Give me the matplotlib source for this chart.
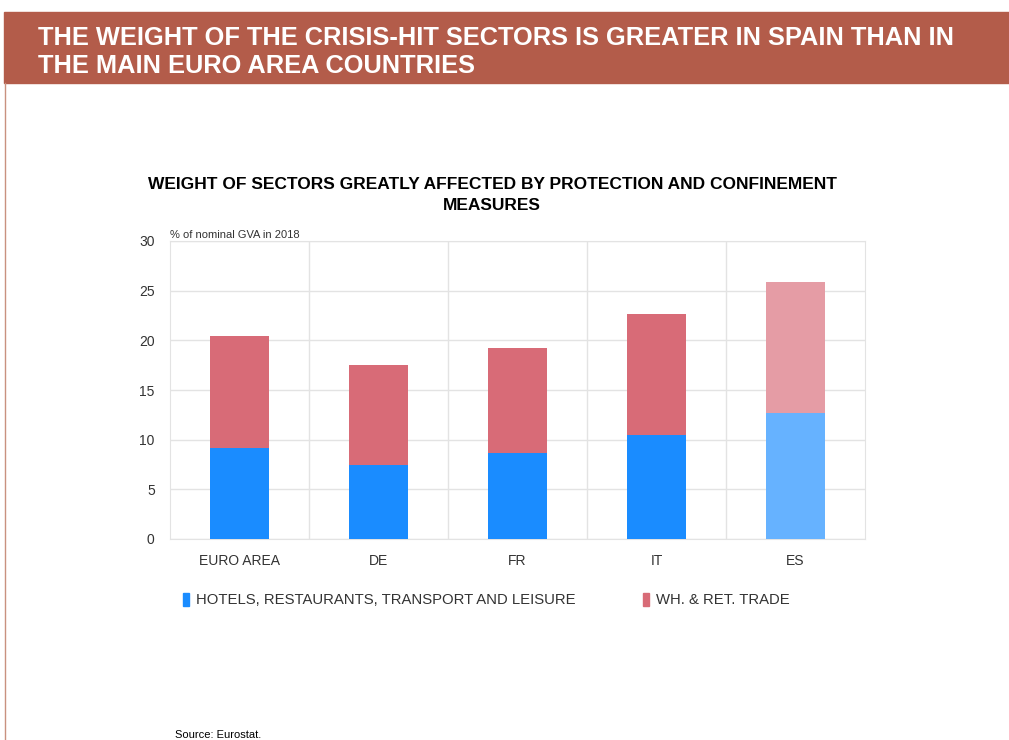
import matplotlib.pyplot as plt
from matplotlib.patches import Rectangle, Patch
from matplotlib.lines import Line2D

# data (% of nominal GVA in 2018)
countries = ["EURO AREA", "DE", "FR", "IT", "ES"]
hotels = [9.2, 7.4, 8.7, 10.5, 12.7]
trade = [11.2, 10.1, 10.5, 12.2, 13.2]
yticks = [0, 5, 10, 15, 20, 25, 30]

blue = "#1a8cff"
red = "#d86b77"
blue_es = "#66b2ff"
red_es = "#e59ca5"

plt.rcParams['font.family'] = ['Liberation Sans', 'DejaVu Sans']

fig = plt.figure(figsize=(10.09, 7.40), dpi=100)

# header band
fig.patches.append(Rectangle((4/1009, 1 - 83/740), 1, 71/740, transform=fig.transFigure,
                             color="#b35c4a", zorder=0))
fig.lines.append(Line2D([5/1009, 5/1009], [0, 1 - 83/740], transform=fig.transFigure,
                        color="#c9917f", lw=1))
fig.text(38/1009, 1 - 52/740, "THE WEIGHT OF THE CRISIS-HIT SECTORS IS GREATER IN SPAIN THAN IN\nTHE MAIN EURO AREA COUNTRIES",
         color="white", fontsize=18.3, fontweight="bold", va="center", ha="left", linespacing=1.17)

ax = fig.add_axes([170/1009, 1 - 539/740, 695/1009, 298/740])

x = range(len(countries))
cols_b = [blue, blue, blue, blue, blue_es]
cols_r = [red, red, red, red, red_es]
ax.bar(x, hotels, width=0.42, color=cols_b, zorder=3)
ax.bar(x, trade, width=0.42, bottom=hotels, color=cols_r, zorder=3)

ax.set_xlim(-0.5, len(countries) - 0.5)
ax.set_ylim(0, 30)
ax.set_yticks(yticks)
ax.set_xticks(list(x))
ax.set_xticklabels(countries)
ax.tick_params(axis="both", length=0, labelsize=10, labelcolor="#333333")
ax.tick_params(axis="y", pad=11)
ax.tick_params(axis="x", pad=10.5)

# grid: horizontal at ticks, vertical at category borders
ax.grid(axis="y", color="#e3e3e3", lw=1, zorder=0)
for b in [0.5, 1.5, 2.5, 3.5]:
    ax.axvline(b, color="#e3e3e3", lw=1, zorder=0)
for s in ax.spines.values():
    s.set_color("#e3e3e3")

ax.text(0, 1.005, "% of nominal GVA in 2018", transform=ax.transAxes, fontsize=8,
        color="#333333", va="bottom", ha="left")

fig.text(492/1009, 1 - 195/740, "WEIGHT OF SECTORS GREATLY AFFECTED BY PROTECTION AND CONFINEMENT\nMEASURES",
         fontsize=12.5, fontweight="bold", ha="center", va="center", linespacing=1.5)

handles = [Patch(color=blue), Patch(color=red)]
ax.legend(handles, ["HOTELS, RESTAURANTS, TRANSPORT AND LEISURE", "WH. & RET. TRADE"],
          loc="center left", bbox_to_anchor=(0, -61/298), ncol=2, frameon=False,
          fontsize=10.7, handlelength=0.4, handleheight=1.0, handletextpad=0.45,
          columnspacing=4.55, labelcolor="#333333")

fig.text(175/1009, 1 - 735/740, "Source: Eurostat.", fontsize=8, ha="left", va="center")

plt.savefig("out.png", dpi=100)
